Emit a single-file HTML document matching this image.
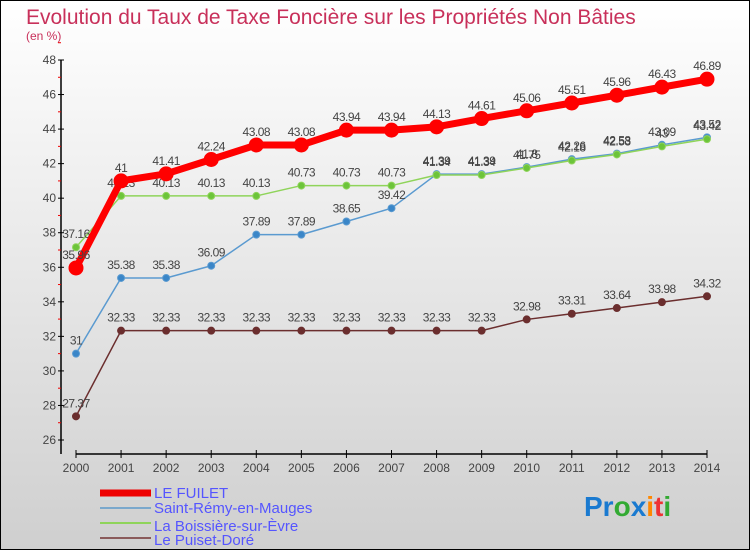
<!DOCTYPE html>
<html><head><meta charset="utf-8"><style>
body{margin:0;}
#c{width:750px;height:550px;position:relative;box-sizing:border-box;border:1px solid #000;background:linear-gradient(#fff,#cfcfcf);font-family:"Liberation Sans",sans-serif;overflow:hidden}
</style></head><body>
<div id="c">
<svg id="s" width="750" height="550" style="position:absolute;left:-1px;top:-1px">
<text x="26" y="24" font-size="21" fill="#c8305a">Evolution du Taux de Taxe Foncière sur les Propriétés Non Bâties</text>
<text x="26" y="40" font-size="12" fill="#c8305a">(en %)</text>
<g id="axes"></g><g id="series"></g>
<g>
<line x1="100" y1="493" x2="151" y2="493" stroke="#e00" stroke-width="7"/>
<text x="154" y="498" font-size="15" fill="#55f">LE FUILET</text>
<line x1="100" y1="508" x2="151" y2="508" stroke="#7aa8cc" stroke-width="2"/>
<text x="154" y="513" font-size="15" fill="#55f">Saint-Rémy-en-Mauges</text>
<line x1="100" y1="523" x2="151" y2="523" stroke="#8fd45a" stroke-width="2"/>
<text x="154" y="531" font-size="15" fill="#55f">La Boissière-sur-Èvre</text>
<line x1="100" y1="538" x2="151" y2="538" stroke="#8a5a5a" stroke-width="2"/>
<text x="154" y="545" font-size="15" fill="#55f">Le Puiset-Doré</text>
</g>
<text x="584" y="516" font-size="28" font-weight="bold"><tspan fill="#1a7ad0">Pr</tspan><tspan fill="#3a3">o</tspan><tspan fill="#1a7ad0">x</tspan><tspan fill="#f80">i</tspan><tspan fill="#e33">t</tspan><tspan fill="#3a3">i</tspan></text>
</svg>
</div>
<script>
const years=[2000,2001,2002,2003,2004,2005,2006,2007,2008,2009,2010,2011,2012,2013,2014];
const yTicks=[26,28,30,32,34,36,38,40,42,44,46,48];
const fuilet=[35.96,41,41.41,42.24,43.08,43.08,43.94,43.94,44.13,44.61,45.06,45.51,45.96,46.43,46.89];
const saintRemy=[31,35.38,35.38,36.09,37.89,37.89,38.65,39.42,41.39,41.39,41.8,42.26,42.58,43.09,43.52];
const boissiere=[37.16,40.13,40.13,40.13,40.13,40.73,40.73,40.73,41.34,41.34,41.75,42.18,42.53,43,43.42];
const puiset=[27.37,32.33,32.33,32.33,32.33,32.33,32.33,32.33,32.33,32.33,32.98,33.31,33.64,33.98,34.32];
const NS="http://www.w3.org/2000/svg";
const X=i=>76+i*(707-76)/(years.length-1);
const Y=v=>440-(v-26)*(380/22);
function mk(t,a,p){const e=document.createElementNS(NS,t);for(const k in a)e.setAttribute(k,a[k]);p.appendChild(e);return e;}
const ax=document.getElementById('axes');
let l=mk('line',{x1:61,y1:60,x2:61,y2:454,stroke:'#000','stroke-width':1.5},ax);


l=mk('line',{x1:76,y1:454,x2:707,y2:454,stroke:'#000','stroke-width':1.5},ax);


yTicks.forEach(v=>{mk('line',{x1:58,y1:Y(v),x2:64,y2:Y(v),stroke:'#000'},ax);
mk('line',{x1:58,y1:Y(v+1),x2:61,y2:Y(v+1),stroke:'#e00'},ax);
const t=mk('text',{x:56,y:Y(v)+4,'font-size':12,fill:'#444','text-anchor':'end'},ax);t.textContent=v;

});
years.forEach((y,i)=>{mk('line',{x1:X(i),y1:450,x2:X(i),y2:458,stroke:'#000'},ax);
const t=mk('text',{x:X(i),y:472,'font-size':12,fill:'#444','text-anchor':'middle'},ax);t.textContent=y;

});
const sg=document.getElementById('series');
function draw(vals,color,w,r,name,dot){
const g=mk('g',{},sg);


const p=mk('polyline',{points:vals.map((v,i)=>X(i)+','+Y(v)).join(' '),fill:'none',stroke:color,'stroke-width':w,'stroke-linejoin':'round'},g);
vals.forEach((v,i)=>{const c=mk('circle',{cx:X(i),cy:Y(v),r:r,fill:dot,stroke:color,'stroke-width':1},g);


const t=mk('text',{x:X(i),y:Y(v)-9,'font-size':12,fill:'#444','text-anchor':'middle','letter-spacing':'-0.5'},g);t.textContent=v;

});}
draw(puiset,'#6b2e2e',1.5,3.5,'series-le-puiset','#6b2e2e');
draw(saintRemy,'#5a9ad0',1.5,3.5,'series-saint-remy','#3a86c8');
draw(boissiere,'#8fd45a',1.5,3.5,'series-la-boissiere','#6cc43a');
draw(fuilet,'#f00',7,7,'series-le-fuilet','#f00');
</script>
</body></html>
